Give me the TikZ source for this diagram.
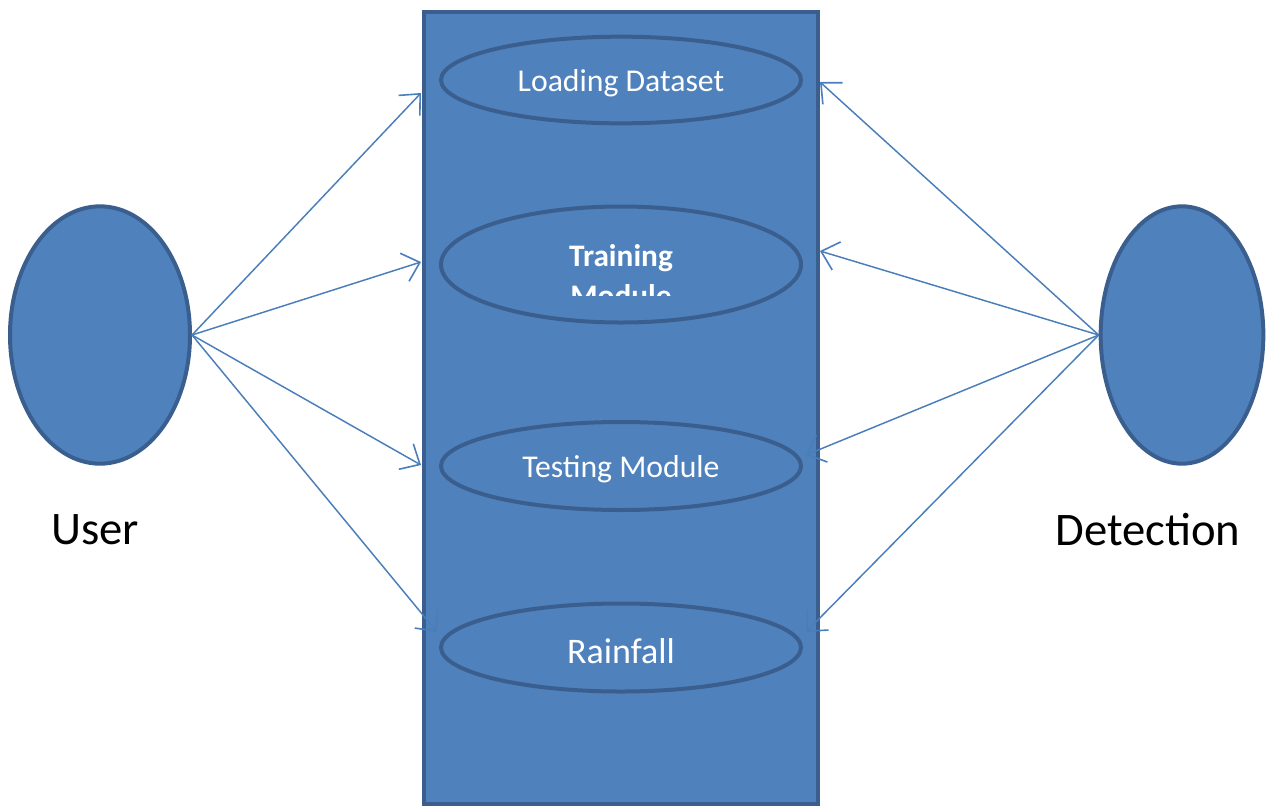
\documentclass[tikz,border=0pt]{standalone}
\usepackage{fontspec}
\setmainfont{Carlito}
\usetikzlibrary{shapes.geometric,arrows.meta}
\definecolor{ucfill}{HTML}{4F81BD}
\definecolor{ucedge}{HTML}{3A5F8E}
\definecolor{ucline}{HTML}{4A7EBB}
\tikzset{
  usecase/.style={ellipse, draw=ucedge, fill=ucfill, line width=3pt, inner sep=0pt,
    minimum width=270pt},
  ucname/.style={anchor=base, text=white, inner sep=0pt, font=\fontsize{23.8}{28}\selectfont},
  actor/.style={ellipse, draw=ucedge, fill=ucfill, line width=3pt, inner sep=0pt},
  actorlabel/.style={text=black, font=\fontsize{35}{42}\selectfont},
  assoc/.style={draw=ucline, line width=1.1pt,
    -{Straight Barb[length=12pt,width=22pt,line width=1.2pt]}},
}
\begin{document}
\begin{tikzpicture}[x=0.75pt,y=-0.75pt]
\useasboundingbox (0,0) rectangle (1271,808);
% system boundary
\node[draw=ucedge, fill=ucfill, line width=3pt, minimum width=296pt, minimum height=594pt, inner sep=0pt] (box) at (621,408) {};
% actors
\node[actor, minimum width=135pt, minimum height=193pt] (user) at (100,335) {};
\node[actor, minimum width=122pt, minimum height=193pt] (det) at (1182,335) {};
\node[actorlabel] (userlbl) at (95,530) {User};
\node[actorlabel] (detlbl) at (1148,530) {Detection};
% arrow end points on the boundary
\coordinate (l1) at (421,93);
\coordinate (l2) at (421,262);
\coordinate (l3) at (421,465);
\coordinate (l4) at (437,632);
\coordinate (r1) at (820,82);
\coordinate (r2) at (820,251);
\coordinate (r3) at (806,455);
\coordinate (r4) at (806,632);
\foreach \t in {l1,l2,l3,l4} \draw[assoc] (user.east) -- (\t);
\foreach \t in {r1,r2,r3,r4} \draw[assoc] (det.west) -- (\t);
% use cases
\node[usecase, minimum height=65pt] (load) at (621,80) {};
\node[usecase, minimum height=87pt] (train) at (621,264.5) {};
\node[usecase, minimum height=66pt] (test) at (621,466) {};
\node[usecase, minimum height=66pt] (rain) at (621,647.5) {};
\node[ucname] (loadtxt) at (621,91) {Loading Dataset};
\node[ucname] (testtxt) at (621,477) {Testing Module};
\node[ucname, font=\fontsize{27}{32}\selectfont] (raintxt) at (621,663) {Rainfall};
% two-line label of the training use case, cut off below
\begin{scope}
  \clip (440,200) rectangle (800,295);
  \node[ucname, font=\bfseries\fontsize{23.5}{28}\selectfont] (trainA) at (621,266) {Training};
  \node[ucname, font=\bfseries\fontsize{23.5}{28}\selectfont] (trainB) at (621,306) {Module};
\end{scope}
\end{tikzpicture}
\end{document}
